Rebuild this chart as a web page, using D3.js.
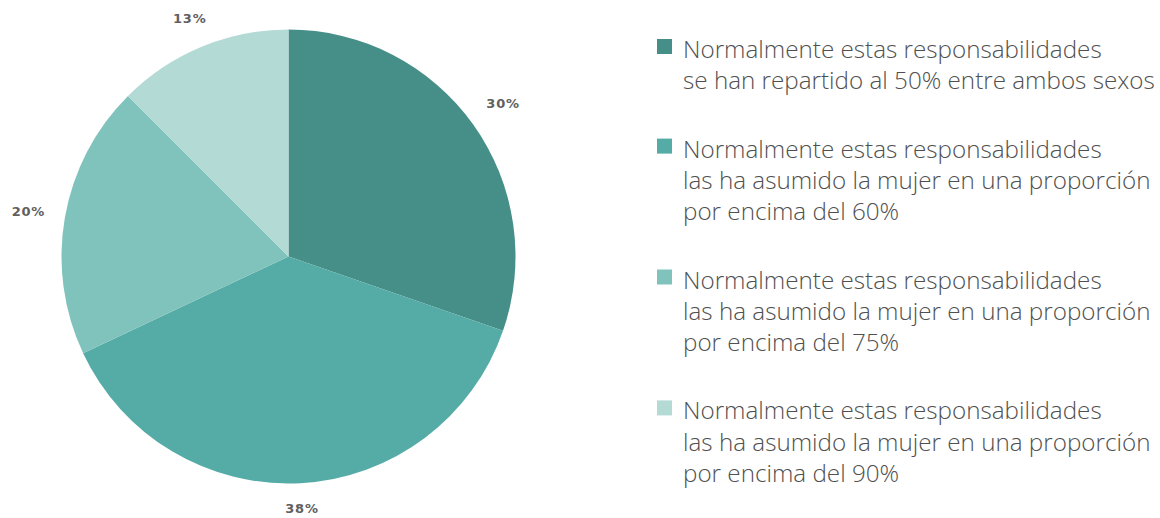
<!DOCTYPE html>
<html>
<head>
<meta charset="utf-8">
<script src="https://cdn.jsdelivr.net/npm/d3@7"></script>
<style>
    body { margin: 0; background: #fff; }
    svg { display: block; }
</style>
</head>
<body>
<div id="chart"></div>
<script>

// slice shares (printed labels are rounded)
var values = [30.3, 37.7, 19.5, 12.5];
var labels = ["30%", "38%", "20%", "13%"];
var colors = ["#468f88", "#55aba6", "#80c3bc", "#b4dad6"];
var legendLines = [
    ["Normalmente estas responsabilidades", "se han repartido al 50% entre ambos sexos"],
    ["Normalmente estas responsabilidades", "las ha asumido la mujer en una proporción", "por encima del 60%"],
    ["Normalmente estas responsabilidades", "las ha asumido la mujer en una proporción", "por encima del 75%"],
    ["Normalmente estas responsabilidades", "las ha asumido la mujer en una proporción", "por encima del 90%"]
];

var width = 1160;
var height = 518;

var svg = d3.select("#chart").append("svg")
    .attr("width", width)
    .attr("height", height);

//Pie
var cx = 288.5, cy = 256.5, radius = 227;
var labelGap = 19;

var pie = d3.pie().sort(null).value(function (d) { return d; });
var arcs = pie(values);

var arc = d3.arc().innerRadius(0).outerRadius(radius);

var g = svg.append("g").attr("transform", "translate(" + cx + "," + cy + ")");

g.selectAll("path")
    .data(arcs)
    .enter()
    .append("path")
    .attr("d", arc)
    .attr("fill", function (d, i) { return colors[i]; });

var pieLabels = g.selectAll("text")
    .data(arcs)
    .enter()
    .append("text")
    .attr("text-anchor", "middle")
    .attr("dy", "0.36em")
    .style("font-family", "DejaVu Sans")
    .style("font-weight", "bold")
    .style("font-size", "13px")
    .style("letter-spacing", "0.8px")
    .style("fill", "#606060")
    .text(function (d, i) { return labels[i]; });

//push each label out along the mid angle until its box clears the pie by labelGap
pieLabels.attr("transform", function (d) {
    var a = (d.startAngle + d.endAngle) / 2;
    var dx = Math.sin(a), dy = -Math.cos(a);
    var hw = this.getComputedTextLength() / 2, hh = 6;
    var t = radius;
    while (true) {
        var x = t * dx, y = t * dy;
        var nx = Math.sign(x) * Math.max(0, Math.abs(x) - hw);
        var ny = Math.sign(y) * Math.max(0, Math.abs(y) - hh);
        if (Math.sqrt(nx * nx + ny * ny) >= radius + labelGap) break;
        t += 0.5;
    }
    return "translate(" + (t * dx) + "," + (t * dy) + ")";
});

//Legend
var lineH = 31.3;
var gap = 37;
var legendX = 657;
var textX = 683;
var y0 = 58;

var offsets = [];
var acc = y0;
legendLines.forEach(function (lines) {
    offsets.push(acc);
    acc += lines.length * lineH + gap;
});

var legend = svg.selectAll(".legend")
    .data(legendLines)
    .enter()
    .append("g")
    .attr("class", "legend")
    .attr("transform", function (d, i) { return "translate(0," + offsets[i] + ")"; });

legend.append("rect")
    .attr("x", legendX)
    .attr("y", -19)
    .attr("width", 15)
    .attr("height", 15)
    .attr("fill", function (d, i) { return colors[i]; });

var txt = legend.append("text")
    .attr("x", textX)
    .style("font-family", "Open Sans")
    .style("font-weight", "300")
    .style("font-size", "20px")
    .style("fill", "#505050");

txt.selectAll("tspan")
    .data(function (d) { return d; })
    .enter()
    .append("tspan")
    .attr("x", textX)
    .attr("y", function (d, i) { return i * lineH; })
    .text(function (d) { return d; });

//fit the longest line to the width it has in the original (about 472px)
var longest = d3.max(txt.selectAll("tspan").nodes(), function (t) { return t.getComputedTextLength(); });
txt.style("font-size", (20 * 472 / longest) + "px");

</script>
</body>
</html>
